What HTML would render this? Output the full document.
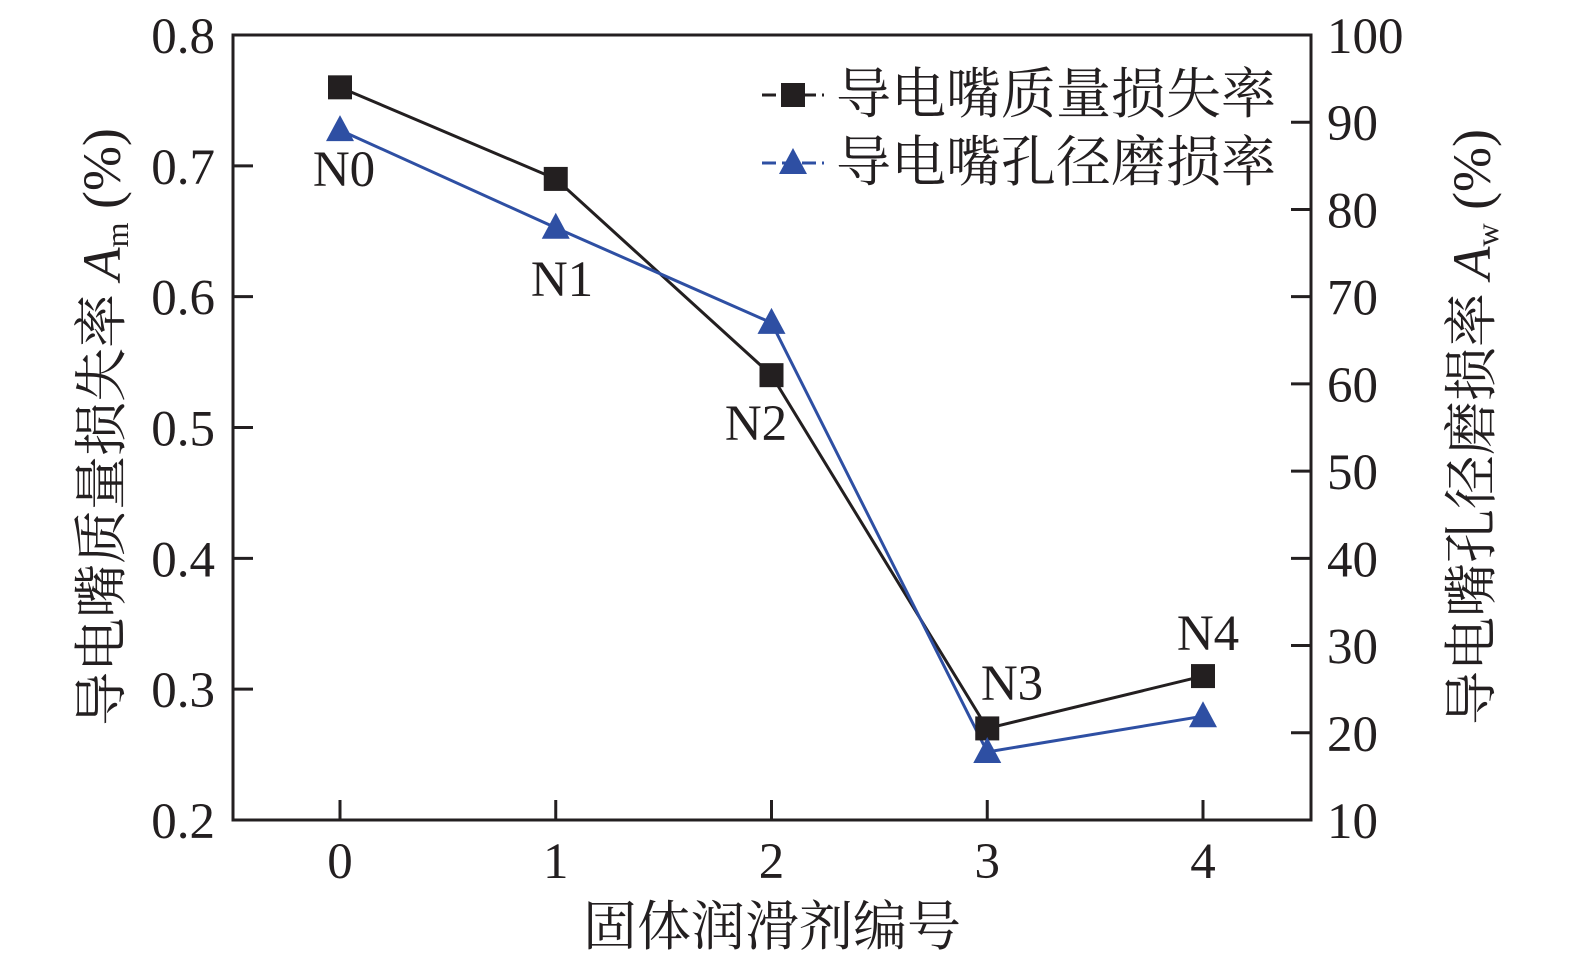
<!DOCTYPE html>
<html><head><meta charset="utf-8"><style>
html,body{margin:0;padding:0;background:#fff;width:1575px;height:968px;overflow:hidden}
text{font-family:"Liberation Serif","Noto Serif CJK SC",serif;fill:#231f20}
</style></head><body>
<svg id="chart" width="1575" height="968" xmlns="http://www.w3.org/2000/svg">
<g id="axes"></g><g id="series"></g><g id="legend"></g>
</svg>
<script>
const categories=[0,1,2,3,4];
const labels=["N0","N1","N2","N3","N4"];
const massLoss=[0.76,0.69,0.54,0.27,0.31];
const holeWear=[89.1,77.9,67.0,17.8,21.9];
const leftTicks=[0.2,0.3,0.4,0.5,0.6,0.7,0.8];
const rightTicks=[10,20,30,40,50,60,70,80,90,100];
const L=233,R=1311,T=35,B=820;
const X0=340,X4=1203;
const xs=v=>X0+(X4-X0)*v/4;
const yl=v=>B-(v-0.2)/0.6*(B-T);
const yr=v=>B-(v-10)/90*(B-T);
const NS="http://www.w3.org/2000/svg";
function mk(tag,attrs,parent,txt){const e=document.createElementNS(NS,tag);for(const k in attrs)e.setAttribute(k,attrs[k]);if(txt!==undefined)e.textContent=txt;parent.appendChild(e);return e;}
const ax=document.getElementById('axes'),se=document.getElementById('series'),lg=document.getElementById('legend');
let f=mk('path',{d:`M${L},${T}H${R}V${B}H${L}Z`,fill:'none',stroke:'#231f20','stroke-width':3},ax);


leftTicks.forEach(v=>{const y=yl(v);
 let t=mk('line',{x1:L,x2:L+20,y1:y,y2:y,stroke:'#231f20','stroke-width':3},ax);
 
 
 let l=mk('text',{x:L-18,y:y+18,'text-anchor':'end','font-size':51},ax,v.toFixed(1));
 
 });
rightTicks.forEach(v=>{const y=yr(v);
 let t=mk('line',{x1:R-20,x2:R,y1:y,y2:y,stroke:'#231f20','stroke-width':3},ax);
 
 
 let l=mk('text',{x:R+16,y:y+18,'text-anchor':'start','font-size':51},ax,String(v));
 
 });
categories.forEach(v=>{const x=xs(v);
 let t=mk('line',{x1:x,x2:x,y1:B-20,y2:B,stroke:'#231f20','stroke-width':3},ax);
 
 
 let l=mk('text',{x:x,y:B+58,'text-anchor':'middle','font-size':51},ax,String(v));
 
 });
let xt=mk('text',{x:772,y:945,'text-anchor':'middle','font-size':54},ax,'固体润滑剂编号');


let ylt=mk('text',{x:0,y:0,'text-anchor':'middle','font-size':54,transform:'translate(120,427) rotate(-90)'},ax);


ylt.innerHTML='导电嘴质量损失率 <tspan font-style="italic">A</tspan><tspan font-size="32" dy="8">m</tspan><tspan dy="-8"> (%)</tspan>';
let yrt=mk('text',{x:0,y:0,'text-anchor':'middle','font-size':54,transform:'translate(1490,427) rotate(-90)'},ax);


yrt.innerHTML='导电嘴孔径磨损率 <tspan font-style="italic">A</tspan><tspan font-size="32" dy="8">w</tspan><tspan dy="-8"> (%)</tspan>';
let bl=mk('polyline',{points:categories.map((c,i)=>xs(c)+','+yl(massLoss[i])).join(' '),fill:'none',stroke:'#231f20','stroke-width':3},se);


let bu=mk('polyline',{points:categories.map((c,i)=>xs(c)+','+yr(holeWear[i])).join(' '),fill:'none',stroke:'#2e4fa3','stroke-width':3},se);


categories.forEach((c,i)=>{
 const x=xs(c),y=yl(massLoss[i]);
 let s=mk('rect',{x:x-12,y:y-12,width:24,height:24,fill:'#231f20'},se);
 
 
 const y2=yr(holeWear[i]);
 let tr=mk('polygon',{points:`${x},${y2-15} ${x-14},${y2+11} ${x+14},${y2+11}`,fill:'#2e4fa3'},se);
 
 
});
const lblPos=[[344,186],[562,296],[756,440],[1012,700],[1208,650]];
labels.forEach((t,i)=>{let e=mk('text',{x:lblPos[i][0],y:lblPos[i][1],'text-anchor':'middle','font-size':51},se,t);
 
 });
let l1=mk('line',{x1:762,x2:824,y1:95,y2:95,stroke:'#231f20','stroke-width':3,'stroke-dasharray':'14 6'},lg);


let r1=mk('rect',{x:781,y:83,width:24,height:24,fill:'#231f20'},lg);


let t1=mk('text',{x:836,y:113,'font-size':55},lg,'导电嘴质量损失率');


let l2=mk('line',{x1:762,x2:824,y1:163,y2:163,stroke:'#2e4fa3','stroke-width':3,'stroke-dasharray':'14 6'},lg);


let r2=mk('polygon',{points:'793,148 779,174 807,174',fill:'#2e4fa3'},lg);


let t2=mk('text',{x:836,y:181,'font-size':55},lg,'导电嘴孔径磨损率');


</script>
</body></html>
